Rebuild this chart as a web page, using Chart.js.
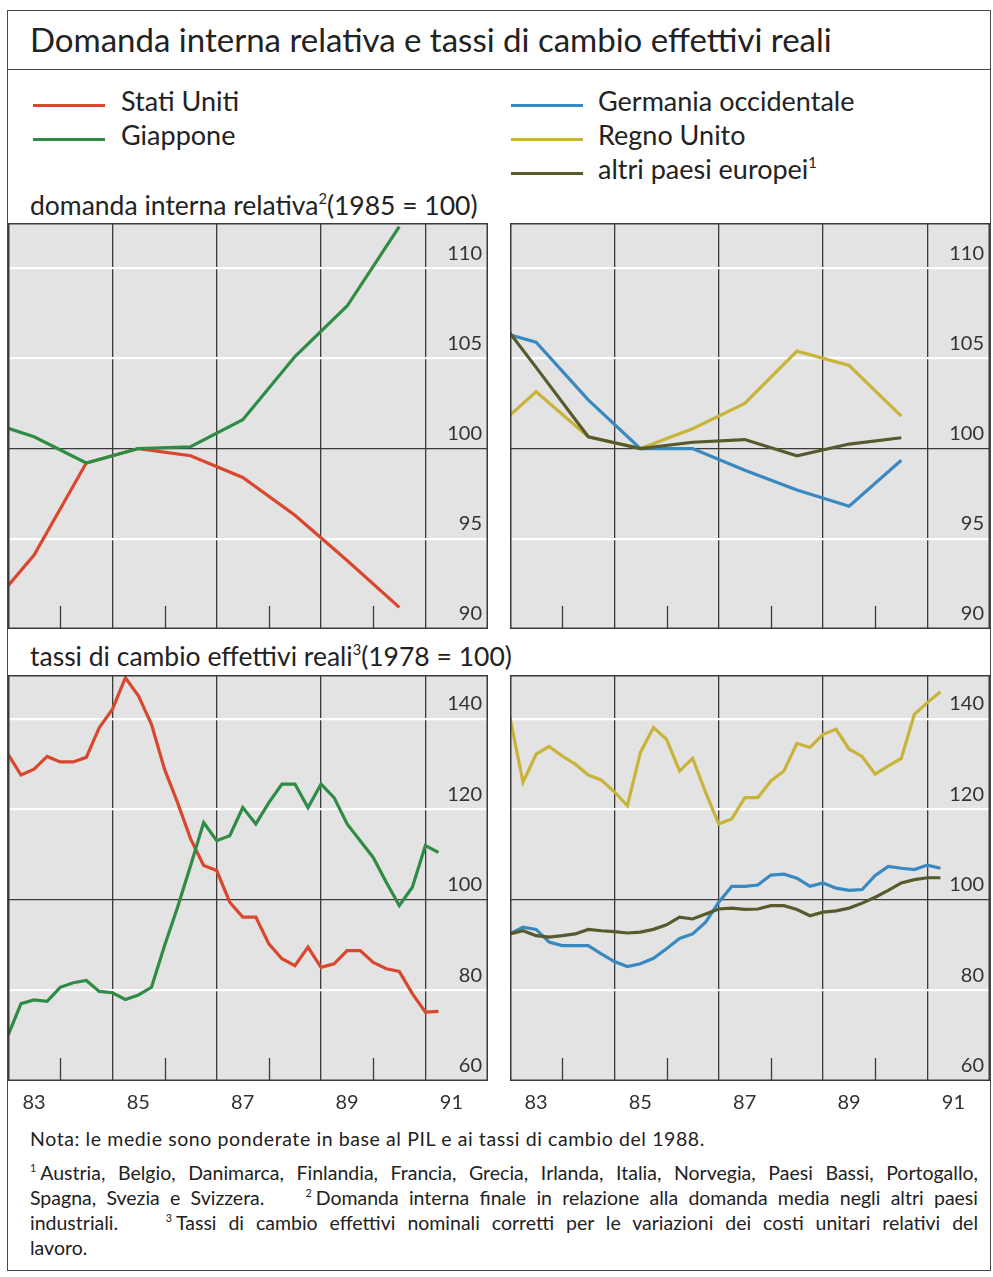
<!DOCTYPE html>
<html>
<head>
<meta charset="utf-8">
<script src="https://cdn.jsdelivr.net/npm/chart.js@4.4.1/dist/chart.umd.min.js"></script>
<style>
  body { margin: 0; background: #fff; font-family: Lato, "Open Sans", sans-serif; color: #222; }
  #page { position: relative; width: 993px; height: 1277px; overflow: hidden; }
  .frame { position: absolute; left: 7px; top: 10px; width: 984px; height: 1261px; border: 1.5px solid #4a4a4a; box-sizing: border-box; }
  .rule { position: absolute; left: 7px; top: 69px; width: 984px; border-top: 1.5px solid #4a4a4a; }
  .t { position: absolute; white-space: nowrap; line-height: 1; }
  .key { position: absolute; width: 72px; height: 3px; }
  .panel { position: absolute; }
  .note { position: absolute; left: 30px; width: 948px; font-size: 19.5px; line-height: 1; white-space: nowrap; }
  .just { text-align: justify; text-align-last: justify; }
  sup { font-size: 0.55em; vertical-align: 0; position: relative; top: -0.75em; }
  .note sup { margin-right: 4px; }
</style>
</head>
<body>
<div id="page">
  <div class="frame"></div>
  <div class="rule"></div>

  <div class="t" style="left:30px; top:23px; font-size:33px;">Domanda interna relativa e tassi di cambio effettivi reali</div>

  <div class="key" style="left:33px; top:104px; background:#d8472e;"></div>
  <div class="t" style="left:121px; top:87px; font-size:27px;">Stati Uniti</div>
  <div class="key" style="left:33px; top:138px; background:#2f8c44;"></div>
  <div class="t" style="left:121px; top:121px; font-size:27px;">Giappone</div>

  <div class="key" style="left:511px; top:104px; background:#3889c0;"></div>
  <div class="t" style="left:598px; top:87px; font-size:27px;">Germania occidentale</div>
  <div class="key" style="left:511px; top:138px; background:#c8b43a;"></div>
  <div class="t" style="left:598px; top:121px; font-size:27px;">Regno Unito</div>
  <div class="key" style="left:511px; top:172px; background:#585a2e;"></div>
  <div class="t" style="left:598px; top:155px; font-size:27px;">altri paesi europei<sup>1</sup></div>

  <div class="t" style="left:30px; top:192px; font-size:26.5px;">domanda interna relativa<sup>2</sup>(1985 = 100)</div>
  <div class="t" style="left:30px; top:643px; font-size:26.5px;">tassi di cambio effettivi reali<sup>3</sup>(1978 = 100)</div>

  <div class="panel" style="left:8px; top:223px; width:480px; height:406px;"><canvas id="demandLeft"></canvas></div>
  <div class="panel" style="left:510px; top:223px; width:480px; height:406px;"><canvas id="demandRight"></canvas></div>
  <div class="panel" style="left:8px; top:675px; width:480px; height:447px;"><canvas id="rateLeft"></canvas></div>
  <div class="panel" style="left:510px; top:675px; width:480px; height:447px;"><canvas id="rateRight"></canvas></div>

  <div class="note" style="top:1129px; letter-spacing:0.6px;">Nota: le medie sono ponderate in base al PIL e ai tassi di cambio del 1988.</div>
  <div class="note just" style="top:1163px;"><sup>1</sup>Austria, Belgio, Danimarca, Finlandia, Francia, Grecia, Irlanda, Italia, Norvegia, Paesi Bassi, Portogallo,</div>
  <div class="note just" style="top:1188px;">Spagna, Svezia e Svizzera. &nbsp;&nbsp; <sup>2</sup>Domanda interna finale in relazione alla domanda media negli altri paesi</div>
  <div class="note just" style="top:1213px;">industriali. &nbsp;&nbsp; <sup>3</sup>Tassi di cambio effettivi nominali corretti per le variazioni dei costi unitari relativi del</div>
  <div class="note" style="top:1238px;">lavoro.</div>
</div>

<script>
// annual data, plotted at mid-year (1985 = 100)
const annualYears = [1982.5, 1983.5, 1984.5, 1985.5, 1986.5, 1987.5, 1988.5, 1989.5, 1990.5];
const usDemand = [90.7, 94.1, 99.2, 100, 99.6, 98.4, 96.3, 93.8, 91.2];
const jpDemand = [101.6, 100.65, 99.2, 100, 100.1, 101.6, 105.1, 107.9, 112.3];
const deDemand = [106.7, 105.9, 102.7, 100, 100.0, 98.8, 97.7, 96.8, 99.35];
const ukDemand = [100.55, 103.15, 100.65, 100, 101.1, 102.5, 105.4, 104.6, 101.8];
const euDemand = [108.3, 104.5, 100.65, 100, 100.35, 100.5, 99.6, 100.25, 100.6];

// quarterly data (1978 = 100)
const quarters = [1983, 1983.25, 1983.5, 1983.75, 1984, 1984.25, 1984.5, 1984.75,
  1985, 1985.25, 1985.5, 1985.75, 1986, 1986.25, 1986.5, 1986.75,
  1987, 1987.25, 1987.5, 1987.75, 1988, 1988.25, 1988.5, 1988.75,
  1989, 1989.25, 1989.5, 1989.75, 1990, 1990.25, 1990.5, 1990.75, 1991, 1991.25];
const usRate = [132.2, 127.6, 128.9, 131.7, 130.5, 130.5, 131.5, 138.1,
  142.1, 149.1, 145.1, 138.8, 128.9, 121.5, 113.5, 107.6,
  106.5, 99.5, 96.2, 96.2, 90.3, 87.0, 85.5, 89.6,
  85.1, 85.9, 88.8, 88.8, 86.2, 84.8, 84.2, 79.3, 75.2, 75.4];
const jpRate = [70.1, 77.1, 77.9, 77.6, 80.7, 81.7, 82.2, 79.8,
  79.5, 78.0, 79.0, 80.7, 89.9, 98.4, 107.6, 117.1,
  113.1, 114.2, 120.4, 116.8, 121.5, 125.6, 125.6, 120.4,
  125.6, 122.6, 116.8, 113.1, 109.4, 103.9, 98.75, 102.8, 112.0, 110.5];
const deRate = [92.5, 94.0, 93.5, 90.7, 89.9, 89.9, 89.9, 88.1,
  86.4, 85.3, 85.9, 87.1, 89.2, 91.5, 92.5, 95.1,
  99.5, 103.0, 103.0, 103.3, 105.5, 105.7, 104.8, 103.0,
  103.75, 102.6, 102.1, 102.3, 105.4, 107.4, 107.0, 106.7, 107.7, 107.0];
const ukRate = [140.3, 126.0, 132.2, 133.9, 131.8, 130.0, 127.6, 126.5,
  123.9, 120.8, 132.6, 138.1, 135.5, 128.5, 131.3, 123.75,
  116.8, 117.9, 122.6, 122.6, 126.3, 128.5, 134.6, 133.7,
  136.6, 137.7, 133.3, 131.7, 127.8, 129.6, 131.25, 141.0, 143.6, 146.0];
const euRate = [92.5, 93.2, 92.1, 91.8, 92.1, 92.5, 93.5, 93.2,
  93.0, 92.7, 92.9, 93.5, 94.5, 96.2, 95.8, 96.9,
  98.0, 98.2, 97.9, 98.0, 98.75, 98.75, 97.9, 96.5,
  97.3, 97.6, 98.2, 99.3, 100.6, 102.1, 103.75, 104.5, 104.9, 104.9];

const tickYears = [1983, 1985, 1987, 1989, 1991];
const tickLabels = ['83', '85', '87', '89', '91'];
const majorYears = [1985, 1987, 1989, 1991];
const minorYears = [1984, 1986, 1988, 1990];

const colors = {
  us: '#d8472e', jp: '#2f8c44', de: '#3889c0', uk: '#c8b43a', eu: '#585a2e'
};
const FONT = 'Lato, "Open Sans", sans-serif';
const DARK = '#3a3a3a';

// grey panel, short year ticks and the frame around each plot
const panelFrame = {
  id: 'panelFrame',
  beforeDraw(chart) {
    const { ctx, chartArea: a } = chart;
    ctx.save();
    ctx.fillStyle = '#e3e3e3';
    ctx.fillRect(a.left, a.top, a.right - a.left, a.bottom - a.top);
    ctx.restore();
  },
  beforeDatasetsDraw(chart) {
    const { ctx, chartArea: a } = chart;
    const x = chart.scales.x;
    ctx.save();
    ctx.strokeStyle = DARK;
    ctx.lineWidth = 1.3;
    minorYears.forEach(yr => {
      const px = Math.round(x.getPixelForValue(yr)) + 0.5;
      ctx.beginPath();
      ctx.moveTo(px, a.bottom);
      ctx.lineTo(px, a.bottom - 23);
      ctx.stroke();
    });
    ctx.restore();
  },
  afterDraw(chart) {
    const { ctx, chartArea: a } = chart;
    ctx.save();
    ctx.strokeStyle = DARK;
    ctx.lineWidth = 1.5;
    ctx.strokeRect(a.left + 0.75, a.top + 0.75, a.right - a.left - 1.5, a.bottom - a.top - 1.5);
    ctx.restore();
  }
};

function panel(id, years, series, yMin, yMax, yStep, withLabels) {
  new Chart(document.getElementById(id), {
    type: 'line',
    data: {
      datasets: series.map(s => ({
        label: s.label,
        data: years.map((x, i) => ({ x, y: s.values[i] })),
        borderColor: s.color,
        borderWidth: 3.2,
        pointRadius: 0,
        tension: 0,
        fill: false,
        order: s.order
      }))
    },
    options: {
      responsive: true,
      maintainAspectRatio: false,
      animation: false,
      events: [],
      layout: { padding: 0, autoPadding: false },
      plugins: { legend: { display: false }, tooltip: { enabled: false } },
      scales: {
        x: {
          type: 'linear',
          min: 1983,
          max: 1992.2,
          afterFit: s => { s.height = withLabels ? 41 : 0; s.paddingLeft = 0; s.paddingRight = 0; },
          border: { display: false },
          grid: {
            drawTicks: false,
            lineWidth: 1.3,
            color: c => majorYears.includes(c.tick.value) ? DARK : 'rgba(0,0,0,0)'
          },
          ticks: {
            display: withLabels,
            stepSize: 1,
            autoSkip: false,
            includeBounds: false,
            maxRotation: 0,
            labelOffset: 26,
            padding: 10,
            color: '#333',
            font: { family: FONT, size: 20 },
            callback: v => {
              const i = tickYears.indexOf(v);
              return i >= 0 ? tickLabels[i] : '';
            }
          }
        },
        y: {
          type: 'linear',
          position: 'right',
          min: yMin,
          max: yMax,
          afterFit: s => { s.width = 0; s.paddingTop = 0; s.paddingBottom = 0; },
          border: { display: false },
          grid: {
            drawTicks: false,
            lineWidth: c => c.tick.value === 100 ? 1.3 : 2.2,
            color: c => c.tick.value === 100 ? DARK : (c.tick.value === yMin ? 'rgba(0,0,0,0)' : '#ffffff')
          },
          ticks: {
            stepSize: yStep,
            includeBounds: false,
            mirror: true,
            padding: -6,
            labelOffset: -15,
            color: '#333',
            font: { family: FONT, size: 20 }
          }
        }
      }
    },
    plugins: [panelFrame]
  });
}

panel('demandLeft', annualYears, [
  { label: 'Stati Uniti', values: usDemand, color: colors.us, order: 2 },
  { label: 'Giappone', values: jpDemand, color: colors.jp, order: 1 }
], 90, 112.5, 5, false);

panel('demandRight', annualYears, [
  { label: 'Germania occidentale', values: deDemand, color: colors.de, order: 3 },
  { label: 'Regno Unito', values: ukDemand, color: colors.uk, order: 2 },
  { label: 'altri paesi europei', values: euDemand, color: colors.eu, order: 1 }
], 90, 112.5, 5, false);

panel('rateLeft', quarters, [
  { label: 'Stati Uniti', values: usRate, color: colors.us, order: 2 },
  { label: 'Giappone', values: jpRate, color: colors.jp, order: 1 }
], 60, 149.7, 20, true);

panel('rateRight', quarters, [
  { label: 'Germania occidentale', values: deRate, color: colors.de, order: 2 },
  { label: 'Regno Unito', values: ukRate, color: colors.uk, order: 3 },
  { label: 'altri paesi europei', values: euRate, color: colors.eu, order: 1 }
], 60, 149.7, 20, true);
</script>
</body>
</html>
